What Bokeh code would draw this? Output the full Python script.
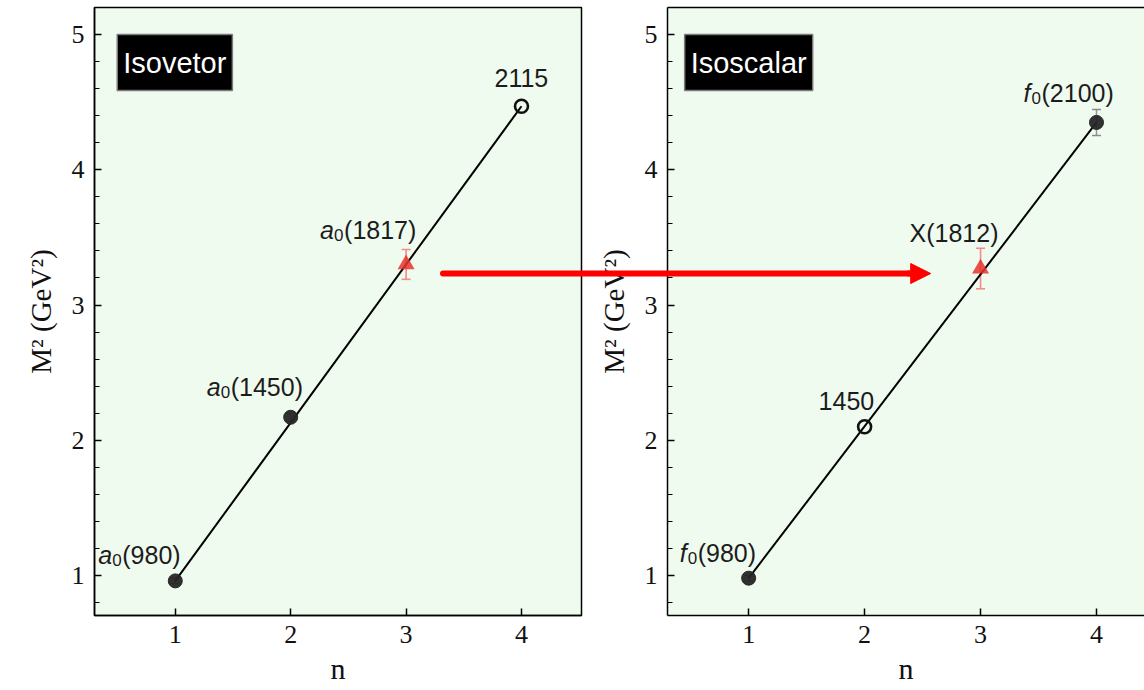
from bokeh.plotting import figure
from bokeh.models import (ColumnDataSource, Whisker, TeeHead, Label, Arrow,
                          NormalHead, LinearAxis, FixedTicker, Range1d)
from bokeh.layouts import row
from bokeh.embed import file_html
from bokeh.resources import INLINE
from bokeh.core.properties import value

# ---------------- data ----------------
n_levels = [1, 2, 3, 4]
x_ticks = [1, 2, 3, 4]
y_ticks = [1, 2, 3, 4, 5]
y_minor_ticks = [0.8, 1.2, 1.4, 1.6, 1.8, 2.2, 2.4, 2.6, 2.8, 3.2, 3.4, 3.6, 3.8,
                 4.2, 4.4, 4.6, 4.8]

# Isovector panel
iv_m2 = [0.96, 2.17, 3.30, 4.47]
iv_err = [0.02, 0.03, 0.11, 0.0]
iv_kind = ["exp", "exp", "pred", "open"]
iv_prefix = ["a", "a", "a", ""]
iv_sub = ["0", "0", "0", ""]
iv_rest = ["(980)", "(1450)", "(1817)", "2115"]
iv_fit_n = [1, 4]
iv_fit_m2 = [0.96, 4.47]

# Isoscalar panel
is_m2 = [0.98, 2.10, 3.27, 4.35]
is_err = [0.02, 0.0, 0.15, 0.096]
is_kind = ["exp", "open", "pred", "exp"]
is_prefix = ["f", "", "", "f"]
is_sub = ["0", "", "", "0"]
is_rest = ["(980)", "1450", "X(1812)", "(2100)"]
is_fit_n = [1, 4]
is_fit_m2 = [0.98, 4.35]

arrow_m2 = 3.233
arrow_from_n = 3.32
arrow_to_n = 2.57

# ---------------- layout / style ----------------
iv_dx = [-77, -84, -86, -27]
iv_dy = [26, 30, 34, 28]
is_dx = [-69, -46, -71, -73]
is_dy = [25, 26, 35, 29]

BG = "#f0fbef"
RED = "#ff0000"
SANS = "Liberation Sans"
SERIF = "Liberation Serif"
W_PRE = {"a": 14, "f": 8, "": 0}
W_SUB = {"0": 10, "": 0}


def style(p, outline=True):
    p.background_fill_color = BG
    p.border_fill_color = "white"
    p.outline_line_color = "black" if outline else None
    p.outline_line_width = 1.5
    p.xgrid.visible = False
    p.ygrid.visible = False
    xa = p.xaxis[0]
    ya = p.yaxis[0]
    xa.ticker = FixedTicker(ticks=x_ticks)
    ya.ticker = FixedTicker(ticks=y_ticks, minor_ticks=y_minor_ticks)
    for ax in (xa, ya):
        ax.axis_line_width = 1.5
        ax.axis_line_color = "black"
        ax.major_tick_in = 7
        ax.major_tick_out = 0
        ax.major_tick_line_width = 1.5
        ax.minor_tick_line_width = 1.2
        ax.major_label_text_font = SERIF
        ax.major_label_text_font_size = "26px"
        ax.major_label_text_color = "#111111"
        ax.axis_label_text_font = SERIF
        ax.axis_label_text_font_style = "normal"
        ax.axis_label_text_color = "#111111"
    xa.minor_tick_in = 0
    xa.minor_tick_out = 0
    ya.minor_tick_in = 5
    ya.minor_tick_out = 0
    xa.major_label_standoff = 10
    xa.axis_label_standoff = 6
    xa.axis_label = "n"
    xa.axis_label_text_font_size = "30px"
    ya.major_label_standoff = 10
    ya.axis_label_standoff = 12
    ya.axis_label = "M² (GeV²)"
    ya.axis_label_text_font_size = "29px"


def add_points(p, m2, err, kind):
    for k in ("exp", "open", "pred"):
        idx = [i for i, kk in enumerate(kind) if kk == k]
        if not idx:
            continue
        src = ColumnDataSource(dict(
            x=[n_levels[i] for i in idx],
            y=[m2[i] for i in idx],
            lo=[m2[i] - err[i] for i in idx],
            hi=[m2[i] + err[i] for i in idx],
        ))
        if k == "exp":
            w = Whisker(base="x", lower="lo", upper="hi", source=src,
                        line_color="#8a8a8a", line_width=1.5, line_alpha=0.9,
                        upper_head=TeeHead(size=9, line_color="#8a8a8a", line_width=1.5),
                        lower_head=TeeHead(size=9, line_color="#8a8a8a", line_width=1.5))
            p.add_layout(w)
            p.scatter(x="x", y="y", source=src, marker="circle", size=14,
                      fill_color="#262626", line_color="#262626", fill_alpha=0.95)
        elif k == "open":
            p.scatter(x="x", y="y", source=src, marker="circle", size=13,
                      fill_color=None, line_color="#111111", line_width=2.6)
        else:
            w = Whisker(base="x", lower="lo", upper="hi", source=src,
                        line_color="#f08c8c", line_width=1.6,
                        upper_head=TeeHead(size=9, line_color="#f08c8c", line_width=1.6),
                        lower_head=TeeHead(size=9, line_color="#f08c8c", line_width=1.6))
            p.add_layout(w)
            p.scatter(x="x", y="y", source=src, marker="triangle", size=17,
                      fill_color="#e8332e", line_color=None, fill_alpha=0.85)


def add_labels(p, m2, prefix, sub, rest, dx, dy):
    x0 = [d for d in dx]
    x1 = [d + W_PRE[a] for d, a in zip(dx, prefix)]
    x2 = [d + W_PRE[a] + W_SUB[s] for d, a, s in zip(dx, prefix, sub)]
    yo = [-d for d in dy]
    ys = [-d + 5 for d in dy]
    common = dict(text_align="left", text_baseline="alphabetic", text_color="#1c1c1c")
    p.text(x="x", y="y", text="t", x_offset="xo", y_offset="yo",
           source=ColumnDataSource(dict(x=n_levels, y=m2, t=prefix, xo=x0, yo=yo)),
           text_font=value(SANS), text_font_style="italic", text_font_size="25px", **common)
    p.text(x="x", y="y", text="t", x_offset="xo", y_offset="yo",
           source=ColumnDataSource(dict(x=n_levels, y=m2, t=sub, xo=x1, yo=ys)),
           text_font=value(SANS), text_font_size="17px", **common)
    p.text(x="x", y="y", text="t", x_offset="xo", y_offset="yo",
           source=ColumnDataSource(dict(x=n_levels, y=m2, t=rest, xo=x2, yo=yo)),
           text_font=value(SANS), text_font_size="25px", **common)


def add_box(p, text, x):
    p.add_layout(Label(x=x, y=5.0, text=text, text_align="left", text_baseline="top",
                       text_font=SANS, text_font_size="29px", text_color="white",
                       background_fill_color="black", border_line_color="#7a7a7a",
                       border_line_width=1.5, padding=(6, 12)))


YR = (0.704, 5.2)

# ---------------- left panel ----------------
p1 = figure(width=590, height=690, output_backend="svg", toolbar_location=None,
            x_range=Range1d(0.3, 4.52), y_range=Range1d(*YR),
            min_border_left=94, min_border_right=9, min_border_top=7,
            min_border_bottom=75)
style(p1)
p1.line(iv_fit_n, iv_fit_m2, line_color="black", line_width=2)
add_points(p1, iv_m2, iv_err, iv_kind)
add_labels(p1, iv_m2, iv_prefix, iv_sub, iv_rest, iv_dx, iv_dy)
add_box(p1, "Isovetor", 0.497)
p1.segment(x0=[arrow_from_n], y0=[arrow_m2], x1=[8.0], y1=[arrow_m2],
           line_color=RED, line_width=6, line_cap="round", level="overlay")

# ---------------- right panel ----------------
p2 = figure(width=554, height=690, output_backend="svg", toolbar_location=None,
            x_range=Range1d(0.3, 4.414), y_range=Range1d(*YR),
            min_border_left=77, min_border_right=0, min_border_top=7,
            min_border_bottom=75)
style(p2, outline=False)
top_ax = LinearAxis(ticker=FixedTicker(ticks=[]), axis_line_width=1.5,
                    axis_line_color="black", major_tick_in=0, major_tick_out=0,
                    minor_tick_in=0, minor_tick_out=0)
p2.add_layout(top_ax, "above")
p2.line(is_fit_n, is_fit_m2, line_color="black", line_width=2)
add_points(p2, is_m2, is_err, is_kind)
add_labels(p2, is_m2, is_prefix, is_sub, is_rest, is_dx, is_dy)
add_box(p2, "Isoscalar", 0.448)
p2.segment(x0=[-2.0], y0=[arrow_m2], x1=[arrow_to_n - 0.1], y1=[arrow_m2],
           line_color=RED, line_width=6, level="overlay")
p2.add_layout(Arrow(end=NormalHead(size=20, fill_color=RED, line_color=RED,
                                   line_width=1),
                    x_start=arrow_to_n - 0.2, y_start=arrow_m2, x_end=arrow_to_n,
                    y_end=arrow_m2, line_color=RED, line_width=6))

layout = row(p1, p2)
open("out.html", "w").write(file_html(layout, INLINE))
